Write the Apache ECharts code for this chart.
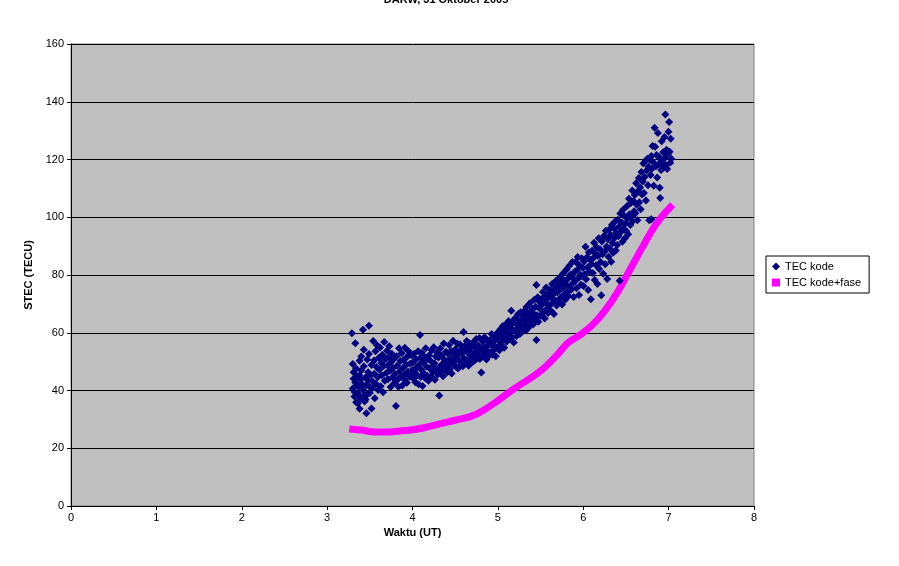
<!DOCTYPE html>
<html>
<head>
<meta charset="utf-8">
<script src="https://cdn.jsdelivr.net/npm/echarts@6/dist/echarts.min.js"></script>
<style>
  html, body { margin: 0; padding: 0; background: #fff; }
  #main { width: 899px; height: 566px; }
</style>
</head>
<body>
<div id="main"></div>
<script>
// TEC kode: scattered code-derived STEC readings [time UT, STEC]
const tecKode = [
  [3.29,59.8],[3.30,49.2],[3.31,44.1],[3.30,40.7],[3.32,37.9],[3.31,46.3],[3.33,42.8],[3.33,56.4],[3.32,39.6],[3.34,35.9],
  [3.35,44.9],[3.36,39.2],[3.34,47.6],[3.36,35.6],[3.37,41.4],[3.38,50.3],[3.37,38.1],[3.39,43.7],[3.38,45.2],[3.40,46.9],
  [3.39,37.4],[3.41,42.2],[3.40,51.8],[3.35,41.8],[3.38,33.7],
  [3.42,40.3],[3.42,61.0],[3.43,48.4],[3.44,38.6],[3.43,54.1],[3.45,44.5],[3.44,36.2],[3.46,41.9],[3.47,50.7],[3.46,32.1],
  [3.48,46.3],[3.47,38.7],[3.49,52.6],[3.50,41.2],[3.49,62.4],[3.51,45.4],[3.50,39.1],[3.52,48.8],[3.52,33.8],[3.53,43.2],
  [3.54,57.1],[3.53,40.9],[3.55,50.4],[3.48,43.5],[3.45,36.9],
  [3.553,45.8],[3.558,37.3],[3.566,53.6],[3.571,42.3],[3.579,48.1],[3.584,55.7],[3.592,44.6],[3.597,40.2],[3.606,51.3],
  [3.611,47.2],[3.619,54.9],[3.627,41.5],[3.633,49.6],[3.641,45.3],[3.648,52.4],[3.655,39.4],[3.662,48.5],[3.669,56.8],
  [3.676,43.4],[3.684,50.9],[3.693,46.1],
  [3.701,53.8],[3.708,48.7],[3.714,43.9],[3.722,51.6],[3.727,55.3],[3.736,46.8],[3.744,41.2],[3.751,49.9],[3.757,52.7],
  [3.766,44.6],[3.772,47.8],[3.779,50.8],[3.788,42.6],[3.806,34.6],[3.794,45.7],[3.813,51.9],[3.821,48.6],[3.828,43.8],
  [3.836,41.3],[3.843,54.6],
  [3.852,46.7],[3.859,50.2],[3.866,44.9],[3.873,52.9],[3.881,41.7],[3.888,47.8],[3.896,50.6],[3.903,43.9],[3.911,54.8],
  [3.918,45.8],[3.926,48.9],[3.934,42.7],[3.941,51.8],[3.949,46.6],[3.957,53.5],[3.964,44.8],[3.972,49.3],[3.981,45.2],
  [3.989,52.1],[3.996,47.0],
  [4.004,49.6],[4.012,44.1],[4.019,52.7],[4.021,46.7],[4.033,42.9],[4.041,50.8],[4.047,48.0],[4.058,45.3],[4.066,53.6],
  [4.071,42.2],[4.079,48.9],[4.088,59.2],[4.093,51.3],[4.097,44.7],
  [4.104,47.2],[4.109,53.1],[4.118,41.6],[4.126,49.8],[4.131,46.0],[4.142,51.5],[4.147,44.3],[4.155,54.6],[4.163,48.3],
  [4.171,45.1],[4.178,50.9],[4.186,43.4],[4.195,52.2],
  [4.203,47.6],[4.211,50.3],[4.214,44.8],[4.226,53.9],[4.232,48.1],[4.241,46.2],[4.249,55.0],[4.257,49.4],[4.262,43.7],
  [4.273,51.8],[4.281,47.3],[4.288,53.2],[4.296,45.5],
  [4.304,51.4],[4.313,38.3],[4.318,48.2],[4.325,54.6],[4.336,46.7],[4.341,52.1],[4.352,49.3],[4.358,44.9],[4.367,56.3],
  [4.373,50.7],[4.384,47.8],[4.391,53.4],[4.398,48.6],
  [4.406,46.3],[4.411,52.9],[4.423,49.5],[4.429,55.8],[4.436,47.4],[4.444,51.2],[4.452,53.7],[4.459,45.9],[4.466,50.4],
  [4.475,57.2],[4.482,48.8],[4.491,52.5],[4.497,50.1],
  [4.503,54.3],[4.512,48.1],[4.519,51.7],[4.527,56.2],[4.533,47.6],[4.545,53.4],[4.551,50.2],[4.558,55.9],[4.566,49.0],
  [4.574,52.8],[4.583,54.7],[4.589,48.4],[4.598,60.3],
  [4.604,51.2],[4.612,55.4],[4.619,49.7],[4.628,53.6],[4.635,57.1],[4.641,50.3],[4.652,54.2],[4.657,48.6],[4.668,56.4],
  [4.674,52.1],[4.683,50.8],[4.689,55.3],[4.697,53.0],
  [4.705,49.9],[4.713,56.7],[4.718,52.4],[4.729,54.9],[4.734,50.6],[4.746,57.8],[4.751,53.1],[4.759,51.2],[4.768,55.6],
  [4.775,52.0],[4.784,58.2],[4.789,50.9],[4.797,54.5],
  [4.806,46.2],[4.811,53.7],[4.822,56.9],[4.827,51.8],[4.838,55.2],[4.844,58.4],[4.853,52.6],[4.861,54.8],[4.866,50.7],
  [4.877,57.3],[4.883,53.5],[4.891,55.9],[4.899,52.2],
  [4.905,57.4],[4.913,53.1],[4.921,55.8],[4.926,59.6],[4.937,52.4],[4.944,56.7],[4.951,54.0],[4.963,58.5],[4.968,55.2],
  [4.976,51.9],[4.984,57.9],[4.991,54.6],[4.998,60.1],
  [5.006,55.3],[5.014,58.8],[5.018,53.9],[5.029,61.2],[5.035,56.7],[5.043,59.4],[5.052,55.1],[5.058,62.3],[5.066,57.6],
  [5.074,54.8],[5.081,60.5],[5.089,58.1],[5.097,63.0],
  [5.103,56.9],[5.112,61.7],[5.117,59.2],[5.126,64.1],[5.134,57.8],[5.141,62.5],[5.149,60.1],[5.157,67.6],[5.163,58.4],
  [5.172,63.3],[5.178,61.0],[5.187,56.6],[5.195,64.8],
  [5.204,60.7],[5.211,65.2],[5.219,58.9],[5.226,62.8],[5.235,66.4],[5.241,61.3],[5.252,63.9],[5.258,59.6],[5.266,67.1],
  [5.273,62.2],[5.284,64.7],[5.289,60.4],[5.297,66.0],
  [5.305,62.5],[5.312,67.6],[5.318,64.3],[5.327,60.8],[5.334,68.9],[5.343,63.6],[5.351,66.2],[5.357,61.7],[5.368,65.4],
  [5.374,70.2],[5.381,63.0],[5.389,67.5],[5.396,64.8],
  [5.404,68.3],[5.413,62.9],[5.418,66.7],[5.427,71.4],[5.436,64.5],[5.442,69.0],[5.451,76.5],[5.452,57.5],[5.459,66.1],
  [5.467,72.3],[5.474,63.8],[5.483,68.6],[5.489,70.7],[5.497,65.9],
  [5.505,71.6],[5.511,66.4],[5.519,69.8],[5.527,74.1],[5.534,67.3],[5.543,72.5],[5.549,64.9],[5.558,70.4],[5.566,75.7],
  [5.573,68.2],[5.582,71.9],[5.588,66.8],[5.596,73.6],
  [5.604,69.5],[5.612,74.8],[5.619,67.7],[5.626,72.2],[5.635,76.9],[5.642,70.3],[5.651,73.4],[5.657,66.5],[5.665,75.1],
  [5.674,71.2],[5.681,78.0],[5.688,69.4],[5.697,73.9],
  [5.705,76.3],[5.712,70.6],[5.719,74.7],[5.728,79.2],[5.734,72.1],[5.741,77.4],[5.752,69.8],[5.758,75.5],[5.766,80.6],
  [5.774,73.2],[5.781,78.1],[5.789,71.4],[5.797,76.8],
  [5.804,81.9],[5.811,74.3],[5.818,78.6],[5.827,72.7],[5.835,83.1],[5.842,76.0],[5.851,80.2],[5.857,74.9],[5.866,79.4],
  [5.873,84.5],[5.882,77.3],[5.888,72.4],[5.896,81.0],
  [5.905,77.8],[5.912,84.6],[5.921,75.4],[5.927,81.7],[5.935,86.2],[5.943,78.9],[5.951,73.1],[5.957,83.3],[5.966,80.1],
  [5.974,76.6],[5.982,85.8],[5.989,79.5],[5.996,82.4],
  [6.004,76.2],[6.011,84.7],[6.019,80.3],[6.026,89.8],[6.034,78.5],[6.041,86.1],[6.049,82.6],[6.058,74.8],[6.066,87.9],
  [6.073,81.2],[6.081,85.3],[6.089,71.6],[6.097,83.8],
  [6.104,88.4],[6.112,80.7],[6.118,85.9],[6.127,91.2],[6.134,78.3],[6.142,87.5],[6.151,83.4],[6.157,89.7],[6.166,76.9],
  [6.174,86.6],[6.181,92.7],[6.188,82.1],[6.197,88.9],
  [6.204,84.5],[6.211,73.0],[6.218,91.6],[6.226,87.2],[6.234,80.4],[6.243,93.5],[6.251,88.1],[6.258,83.7],[6.265,95.3],
  [6.274,89.9],[6.281,78.6],[6.289,92.4],[6.296,86.3],
  [6.304,95.8],[6.312,89.2],[6.319,93.9],[6.327,84.6],[6.336,97.4],[6.343,91.1],[6.349,87.7],[6.358,96.2],[6.366,92.8],
  [6.373,98.5],[6.381,88.5],[6.389,94.6],[6.397,90.4],
  [6.404,99.1],[6.412,93.4],[6.419,96.7],[6.427,78.0],[6.434,101.3],[6.442,94.9],[6.451,98.2],[6.458,91.5],[6.466,102.6],
  [6.473,96.0],[6.482,100.4],[6.488,92.7],[6.497,97.9],
  [6.503,95.2],[6.511,103.8],[6.519,99.6],[6.526,94.1],[6.535,106.4],[6.541,101.0],[6.552,97.3],[6.558,104.9],[6.566,100.2],
  [6.574,109.3],[6.581,98.7],[6.589,105.6],[6.596,102.1],
  [6.604,107.7],[6.611,101.4],[6.619,111.8],[6.626,104.3],[6.634,99.0],[6.642,109.1],[6.651,113.6],[6.657,105.2],[6.666,110.3],
  [6.673,102.8],[6.681,115.7],[6.688,107.9],[6.697,112.4],
  [6.704,118.6],[6.711,108.4],[6.719,113.9],[6.727,119.4],[6.734,105.8],[6.742,116.2],[6.751,120.3],[6.758,111.1],[6.766,117.5],
  [6.774,99.0],[6.781,119.8],[6.789,114.6],[6.797,121.2],[6.799,99.3],
  [6.804,116.8],[6.812,124.7],[6.818,119.1],[6.826,110.9],[6.835,131.0],[6.842,124.4],[6.851,117.7],[6.858,121.6],[6.866,113.8],
  [6.874,129.2],[6.882,118.3],[6.889,120.9],[6.896,110.2],[6.901,106.7],
  [6.905,120.1],[6.912,116.4],[6.919,126.3],[6.927,118.8],[6.936,122.5],[6.943,117.2],[6.951,127.8],[6.958,120.6],[6.962,135.6],
  [6.968,118.1],[6.975,123.4],[6.983,116.7],[6.991,121.9],[6.998,129.6],[7.006,133.0],[7.012,122.7],[7.018,118.9],[7.024,127.2],
  [7.031,120.3]
];

// TEC kode+fase: smooth phase-levelled STEC curve
const fase = [
  [3.30,26.6],[3.40,26.3],[3.50,25.8],[3.60,25.6],[3.70,25.6],[3.85,26.0],[4.00,26.4],[4.15,27.2],
  [4.30,28.3],[4.50,29.7],[4.70,31.2],[4.85,33.5],[5.00,36.5],[5.20,40.8],[5.40,44.6],[5.55,48.0],
  [5.70,52.5],[5.82,56.5],[5.95,59.0],[6.10,62.5],[6.25,67.5],[6.40,74.0],[6.55,82.0],[6.70,90.0],
  [6.85,97.5],[7.02,103.5]
];

const chart = echarts.init(document.getElementById('main'));
const font = '"Liberation Sans", Arial, sans-serif';

chart.setOption({
  animation: false,
  backgroundColor: '#ffffff',
  textStyle: { fontFamily: font },
  title: {
    text: 'DARW, 31 Oktober 2005',
    left: 441,
    textAlign: 'center',
    top: -11,
    textStyle: { fontSize: 11, fontWeight: 'bold', color: '#000', fontFamily: font }
  },
  grid: {
    left: 71, right: 145, top: 44, bottom: 60,
    show: true,
    backgroundColor: '#C0C0C0',
    borderColor: '#808080',
    borderWidth: 1
  },
  legend: {
    orient: 'vertical',
    left: 766, top: 256,
    padding: [5, 8, 5, 6],
    itemGap: 5,
    itemWidth: 8,
    itemHeight: 8,
    borderColor: '#000',
    borderWidth: 1,
    backgroundColor: '#fff',
    textStyle: { fontSize: 11, color: '#000', fontFamily: font },
    data: [
      { name: 'TEC kode', icon: 'diamond' },
      { name: 'TEC kode+fase', icon: 'rect' }
    ]
  },
  xAxis: {
    type: 'value',
    min: 0, max: 8, interval: 1,
    name: 'Waktu (UT)',
    nameLocation: 'middle',
    nameGap: 21,
    nameTextStyle: { fontSize: 11, fontWeight: 'bold', color: '#000' },
    axisLine: { lineStyle: { color: '#000' } },
    axisTick: { show: true, inside: false, length: 4, lineStyle: { color: '#000' } },
    axisLabel: { fontSize: 11, color: '#000', margin: 6 },
    splitLine: { show: false }
  },
  yAxis: {
    type: 'value',
    min: 0, max: 160, interval: 20,
    name: 'STEC (TECU)',
    nameLocation: 'middle',
    nameGap: 36,
    nameTextStyle: { fontSize: 11, fontWeight: 'bold', color: '#000' },
    axisLine: { show: true, lineStyle: { color: '#000' } },
    axisTick: { show: true, inside: false, length: 4, lineStyle: { color: '#000' } },
    axisLabel: { fontSize: 11, color: '#000', margin: 7 },
    splitLine: { show: true, lineStyle: { color: '#000', width: 1 } }
  },
  series: [
    {
      name: 'TEC kode',
      type: 'scatter',
      symbol: 'diamond',
      symbolSize: 8,
      itemStyle: { color: '#000080', opacity: 1 },
      data: tecKode,
      z: 3
    },
    {
      name: 'TEC kode+fase',
      type: 'line',
      smooth: 0.4,
      showSymbol: false,
      symbol: 'rect',
      itemStyle: { color: '#FF00FF' },
      lineStyle: { color: '#FF00FF', width: 7, cap: 'square' },
      data: fase,
      z: 2
    }
  ]
});
</script>
</body>
</html>
